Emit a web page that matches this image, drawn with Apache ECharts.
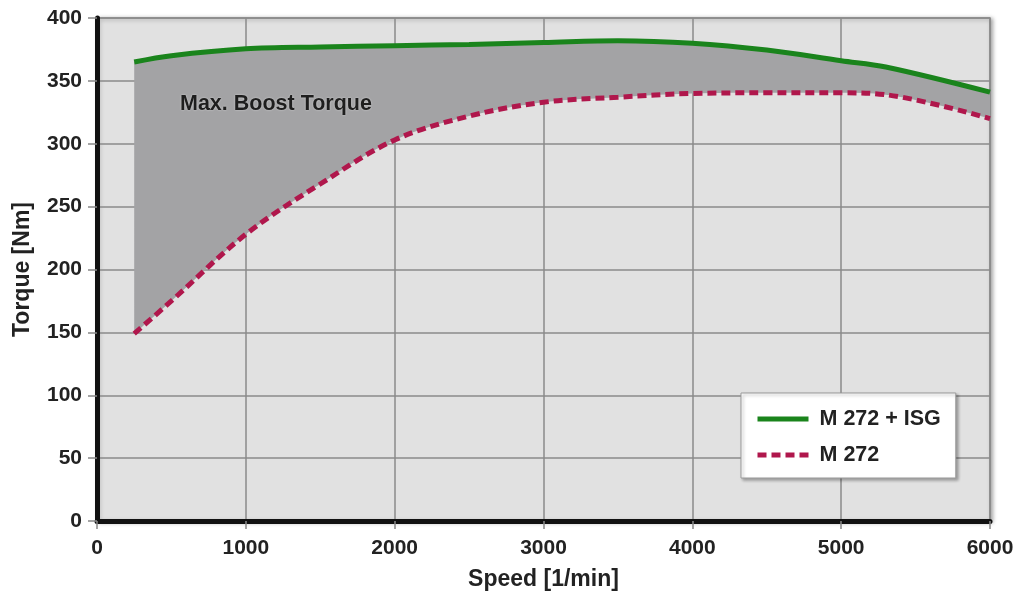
<!DOCTYPE html>
<html>
<head>
<meta charset="utf-8">
<script src="https://cdn.jsdelivr.net/npm/echarts@6/dist/echarts.min.js"></script>
<style>
html,body{margin:0;padding:0;background:#fff;}
#chart{width:1018px;height:592px;}
</style>
</head>
<body>
<div id="chart"></div>
<script>
// speed [1/min] and torque [Nm]
var speeds = [250, 500, 1000, 1500, 2000, 2500, 3000, 3500, 4000, 4500, 5000, 5300, 6000];
var isgTorque = [365, 370, 375.5, 377, 378, 379, 380.5, 382, 380, 374.5, 366, 361, 341];
var baseTorque = [149, 175, 228, 268, 303, 322, 333, 337, 340, 340.5, 340.5, 339, 320];

var FONT = 'Liberation Sans, Arial, sans-serif';

// stacked pairs are [torque, speed] so the stack runs on the torque dimension
var baseStack = [];
var boostStack = [];
var basePts = [];
var isgPts = [];
speeds.forEach(function (s, i) {
	baseStack.push([baseTorque[i], s]);
	boostStack.push([isgTorque[i] - baseTorque[i], s]);
	basePts.push([s, baseTorque[i]]);
	isgPts.push([s, isgTorque[i]]);
});

var labelFmt = function (v) { return String(v); };

var option = {
	backgroundColor: '#fff',
	animation: false,
	grid: {
		left: 97, right: 28, top: 18, bottom: 71,
		outerBoundsMode: 'none',
		show: true,
		backgroundColor: '#e1e1e1',
		borderColor: '#8c8c8c',
		borderWidth: 1.5,
		shadowColor: 'rgba(0,0,0,0.35)',
		shadowBlur: 4,
		shadowOffsetX: 2,
		shadowOffsetY: 1
	},
	legend: {
		data: ['M 272 + ISG', 'M 272'],
		orient: 'vertical',
		left: 741,
		top: 393,
		padding: [15, 15, 12, 14],
		itemWidth: 51,
		itemHeight: 14,
		itemGap: 14,
		backgroundColor: '#fff',
		borderColor: '#9a9a9a',
		borderWidth: 1,
		shadowColor: 'rgba(0,0,0,0.3)',
		shadowBlur: 3,
		shadowOffsetX: 2,
		shadowOffsetY: 2,
		itemStyle: { opacity: 0 },
		lineStyle: { width: 5 },
		textStyle: { fontFamily: FONT, fontSize: 21.5, lineHeight: 21, fontWeight: 'bold', color: '#222', padding: [0, 0, 0, 6] }
	},
	graphic: [{
		type: 'text',
		left: 180,
		top: 93,
		z: 100,
		style: {
			text: 'Max. Boost Torque',
			font: 'bold 21.5px ' + FONT,
			fill: '#1e1e1e',
			textShadowColor: 'rgba(255,255,255,0.6)',
			textShadowBlur: 2
		}
	}],
	xAxis: {
		type: 'value',
		min: 0, max: 6000, interval: 1000,
		name: 'Speed [1/min]',
		nameLocation: 'middle',
		nameGap: 47,
		nameTextStyle: { fontFamily: FONT, fontSize: 23, fontWeight: 'bold', color: '#222' },
		axisLine: { show: true, lineStyle: { color: '#111', width: 5 } },
		axisTick: { show: true, length: 8, lineStyle: { color: '#888', width: 1.5 } },
		axisLabel: { formatter: labelFmt, fontFamily: FONT, fontSize: 21, fontWeight: 'bold', color: '#222', margin: 17 },
		splitLine: { show: true, lineStyle: { color: '#8a8a8a', width: 1.5 } }
	},
	yAxis: {
		type: 'value',
		min: 0, max: 400, interval: 50,
		name: 'Torque [Nm]',
		nameLocation: 'middle',
		nameGap: 63,
		nameTextStyle: { fontFamily: FONT, fontSize: 23, fontWeight: 'bold', color: '#222' },
		axisLine: { show: true, lineStyle: { color: '#111', width: 5 } },
		axisTick: { show: true, length: 9, lineStyle: { color: '#888', width: 1.5 } },
		axisLabel: { formatter: labelFmt, fontFamily: FONT, fontSize: 21, fontWeight: 'bold', color: '#222', margin: 15 },
		splitLine: { show: true, lineStyle: { color: '#8a8a8a', width: 1.5 } }
	},
	series: [{
		name: 'base',
		type: 'line',
		stack: 'torque',
		data: baseStack,
		encode: { x: 1, y: 0 },
		smooth: 0.35,
		symbol: 'none',
		silent: true,
		lineStyle: { width: 0, opacity: 0 }
	}, {
		name: 'boost',
		type: 'line',
		stack: 'torque',
		data: boostStack,
		encode: { x: 1, y: 0 },
		smooth: 0.35,
		symbol: 'none',
		silent: true,
		lineStyle: { width: 0, opacity: 0 },
		areaStyle: { color: '#a3a3a5', opacity: 1 }
	}, {
		name: 'M 272 + ISG',
		type: 'line',
		data: isgPts,
		smooth: 0.35,
		symbol: 'none',
		z: 4,
		color: '#1a841c',
		lineStyle: { color: '#1a841c', width: 5 }
	}, {
		name: 'M 272',
		type: 'line',
		data: basePts,
		smooth: 0.35,
		symbol: 'none',
		z: 4,
		color: '#b0174c',
		lineStyle: { color: '#b0174c', width: 5, type: [9, 5] }
	}]
};

var myChart = echarts.init(document.getElementById('chart'));
myChart.setOption(option);
</script>
</body>
</html>
